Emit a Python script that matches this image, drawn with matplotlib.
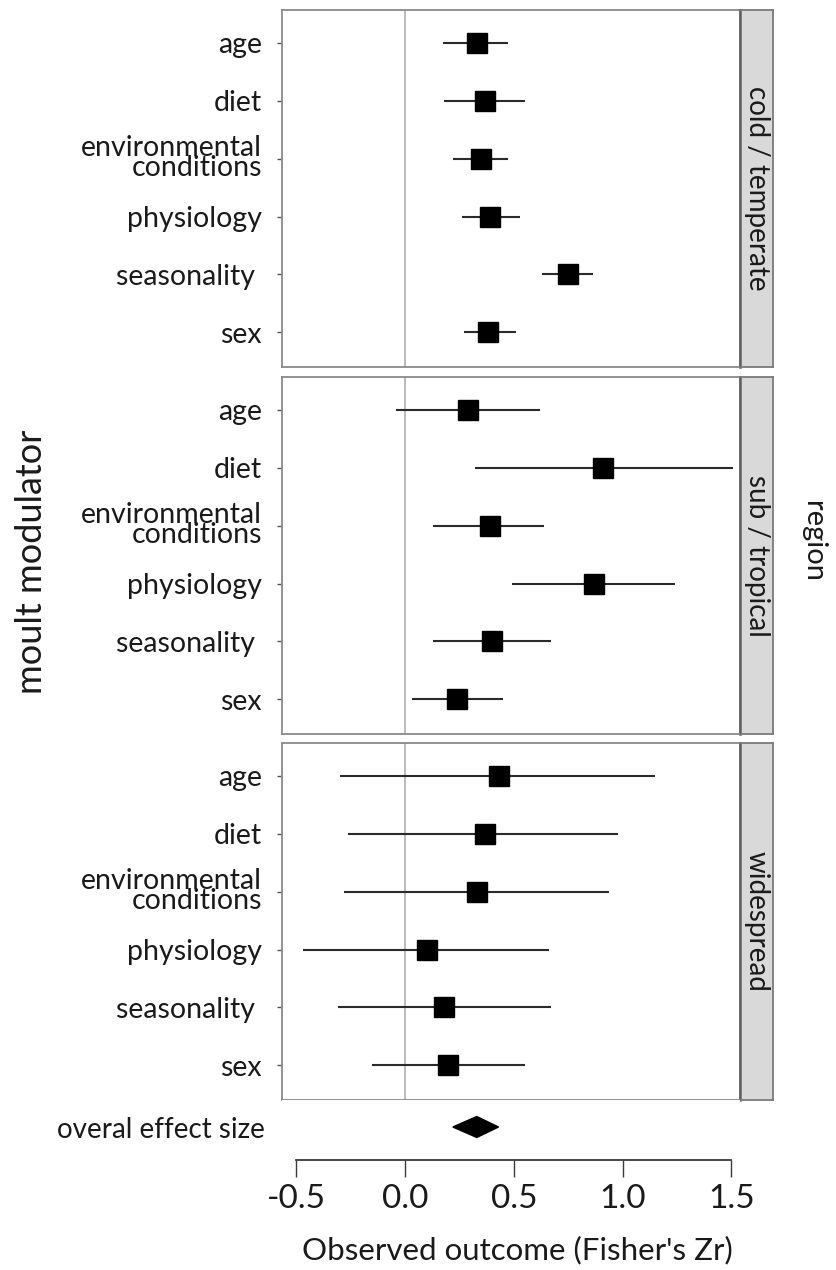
import matplotlib
matplotlib.use("Agg")
import matplotlib.pyplot as plt

plt.rcParams['font.family'] = ['Lato', 'DejaVu Sans']

modulators = ["age", "diet", "environmental\nconditions", "physiology", "seasonality ", "sex"]
regions = ["cold / temperate", "sub / tropical", "widespread"]

est_cold = [0.33, 0.37, 0.35, 0.39, 0.75, 0.38]
lo_cold = [0.175, 0.18, 0.22, 0.26, 0.63, 0.27]
hi_cold = [0.475, 0.55, 0.475, 0.53, 0.865, 0.51]

est_trop = [0.29, 0.91, 0.39, 0.87, 0.40, 0.24]
lo_trop = [-0.04, 0.32, 0.13, 0.49, 0.13, 0.03]
hi_trop = [0.62, 1.51, 0.64, 1.24, 0.67, 0.45]

est_wide = [0.43, 0.37, 0.33, 0.10, 0.18, 0.20]
lo_wide = [-0.30, -0.26, -0.28, -0.47, -0.31, -0.15]
hi_wide = [1.15, 0.98, 0.94, 0.66, 0.67, 0.55]

overall_est = 0.33
overall_lo = 0.22
overall_hi = 0.43

x_ticks = [-0.5, 0.0, 0.5, 1.0, 1.5]
x_tick_labels = ["-0.5", "0.0", "0.5", "1.0", "1.5"]

W, H = 836, 1270
fig = plt.figure(figsize=(W / 100, H / 100), dpi=100)

def fx(px):
    return px / W

def fy(py):
    return 1 - py / H

xlim = (-0.5655, 1.5402)
panel_left, panel_right = 282, 740
strip_right = 773
panel_tops = [10, 377, 743]
panel_h = 357

series = [(est_cold, lo_cold, hi_cold), (est_trop, lo_trop, hi_trop), (est_wide, lo_wide, hi_wide)]
border_col = "#8a8a8a"
txt_col = "#1a1a1a"

for i, (reg, (est, lo, hi)) in enumerate(zip(regions, series)):
    top = panel_tops[i]
    ax = fig.add_axes([fx(panel_left), fy(top + panel_h), fx(panel_right - panel_left), panel_h / H])
    ypos = list(range(1, len(modulators) + 1))
    ax.axvline(0, color="#b5b5b5", lw=1.3, zorder=1)
    ax.hlines(ypos, lo, hi, color="#2b2b2b", lw=1.5, zorder=2)
    ax.plot(est, ypos, "s", color="black", ms=14.5, zorder=3)
    ax.set_xlim(*xlim)
    ax.set_ylim(6.6, 0.43)
    ax.set_yticks(ypos)
    ax.set_yticklabels(modulators, fontsize=20.5, color=txt_col, linespacing=0.7)
    ax.tick_params(axis="y", length=3.5, width=1, color="#555555", pad=11)
    ax.set_xticks([])
    for s in ax.spines.values():
        s.set_color(border_col)
        s.set_linewidth(1.3)
    # strip
    sax = fig.add_axes([fx(panel_right), fy(top + panel_h), fx(strip_right - panel_right), panel_h / H])
    sax.set_facecolor("#d9d9d9")
    sax.set_xticks([])
    sax.set_yticks([])
    for k, s in sax.spines.items():
        s.set_color("#7a7a7a")
        s.set_linewidth(1.3)
    sax.spines["left"].set_color("#606060")
    sax.spines["left"].set_linewidth(1.8)
    sax.text(0.5, 0.5, reg, rotation=-90, ha="center", va="center", fontsize=20,
             color=txt_col, transform=sax.transAxes)

# overall effect + x axis
bax = fig.add_axes([fx(panel_left), fy(1160), fx(panel_right - panel_left), (1160 - 1100) / H])
bax.set_xlim(*xlim)
bax.set_ylim(0, 1)
d = 0.175
yc = 0.55
bax.fill([overall_lo, overall_est, overall_hi, overall_est],
         [yc, yc + d, yc, yc - d], color="black", zorder=3)
for k in ["top", "left", "right"]:
    bax.spines[k].set_visible(False)
bax.spines["bottom"].set_bounds(x_ticks[0], x_ticks[-1])
bax.spines["bottom"].set_color("#3a3a3a")
bax.spines["bottom"].set_linewidth(1.3)
bax.set_xticks(x_ticks)
bax.set_xticklabels(x_tick_labels, fontsize=24, color=txt_col)
bax.tick_params(axis="x", length=12, width=1, color="#3a3a3a", pad=5)
bax.set_yticks([yc])
bax.set_yticklabels(["overal effect size"], fontsize=20, color=txt_col)
bax.tick_params(axis="y", length=0, pad=12)
bax.set_xlabel("Observed outcome (Fisher's Zr)", fontsize=22.5, color=txt_col)
bax.xaxis.set_label_coords(0.513, -1.5)
bax.xaxis.label.set_va("center")

fig.text(fx(32), fy(562), "moult modulator", rotation=90, ha="center", va="center",
         fontsize=26, color=txt_col)
fig.text(fx(813), fy(542), "region", rotation=-90, ha="center", va="center",
         fontsize=21, color=txt_col)

fig.savefig("out.png", dpi=100)
